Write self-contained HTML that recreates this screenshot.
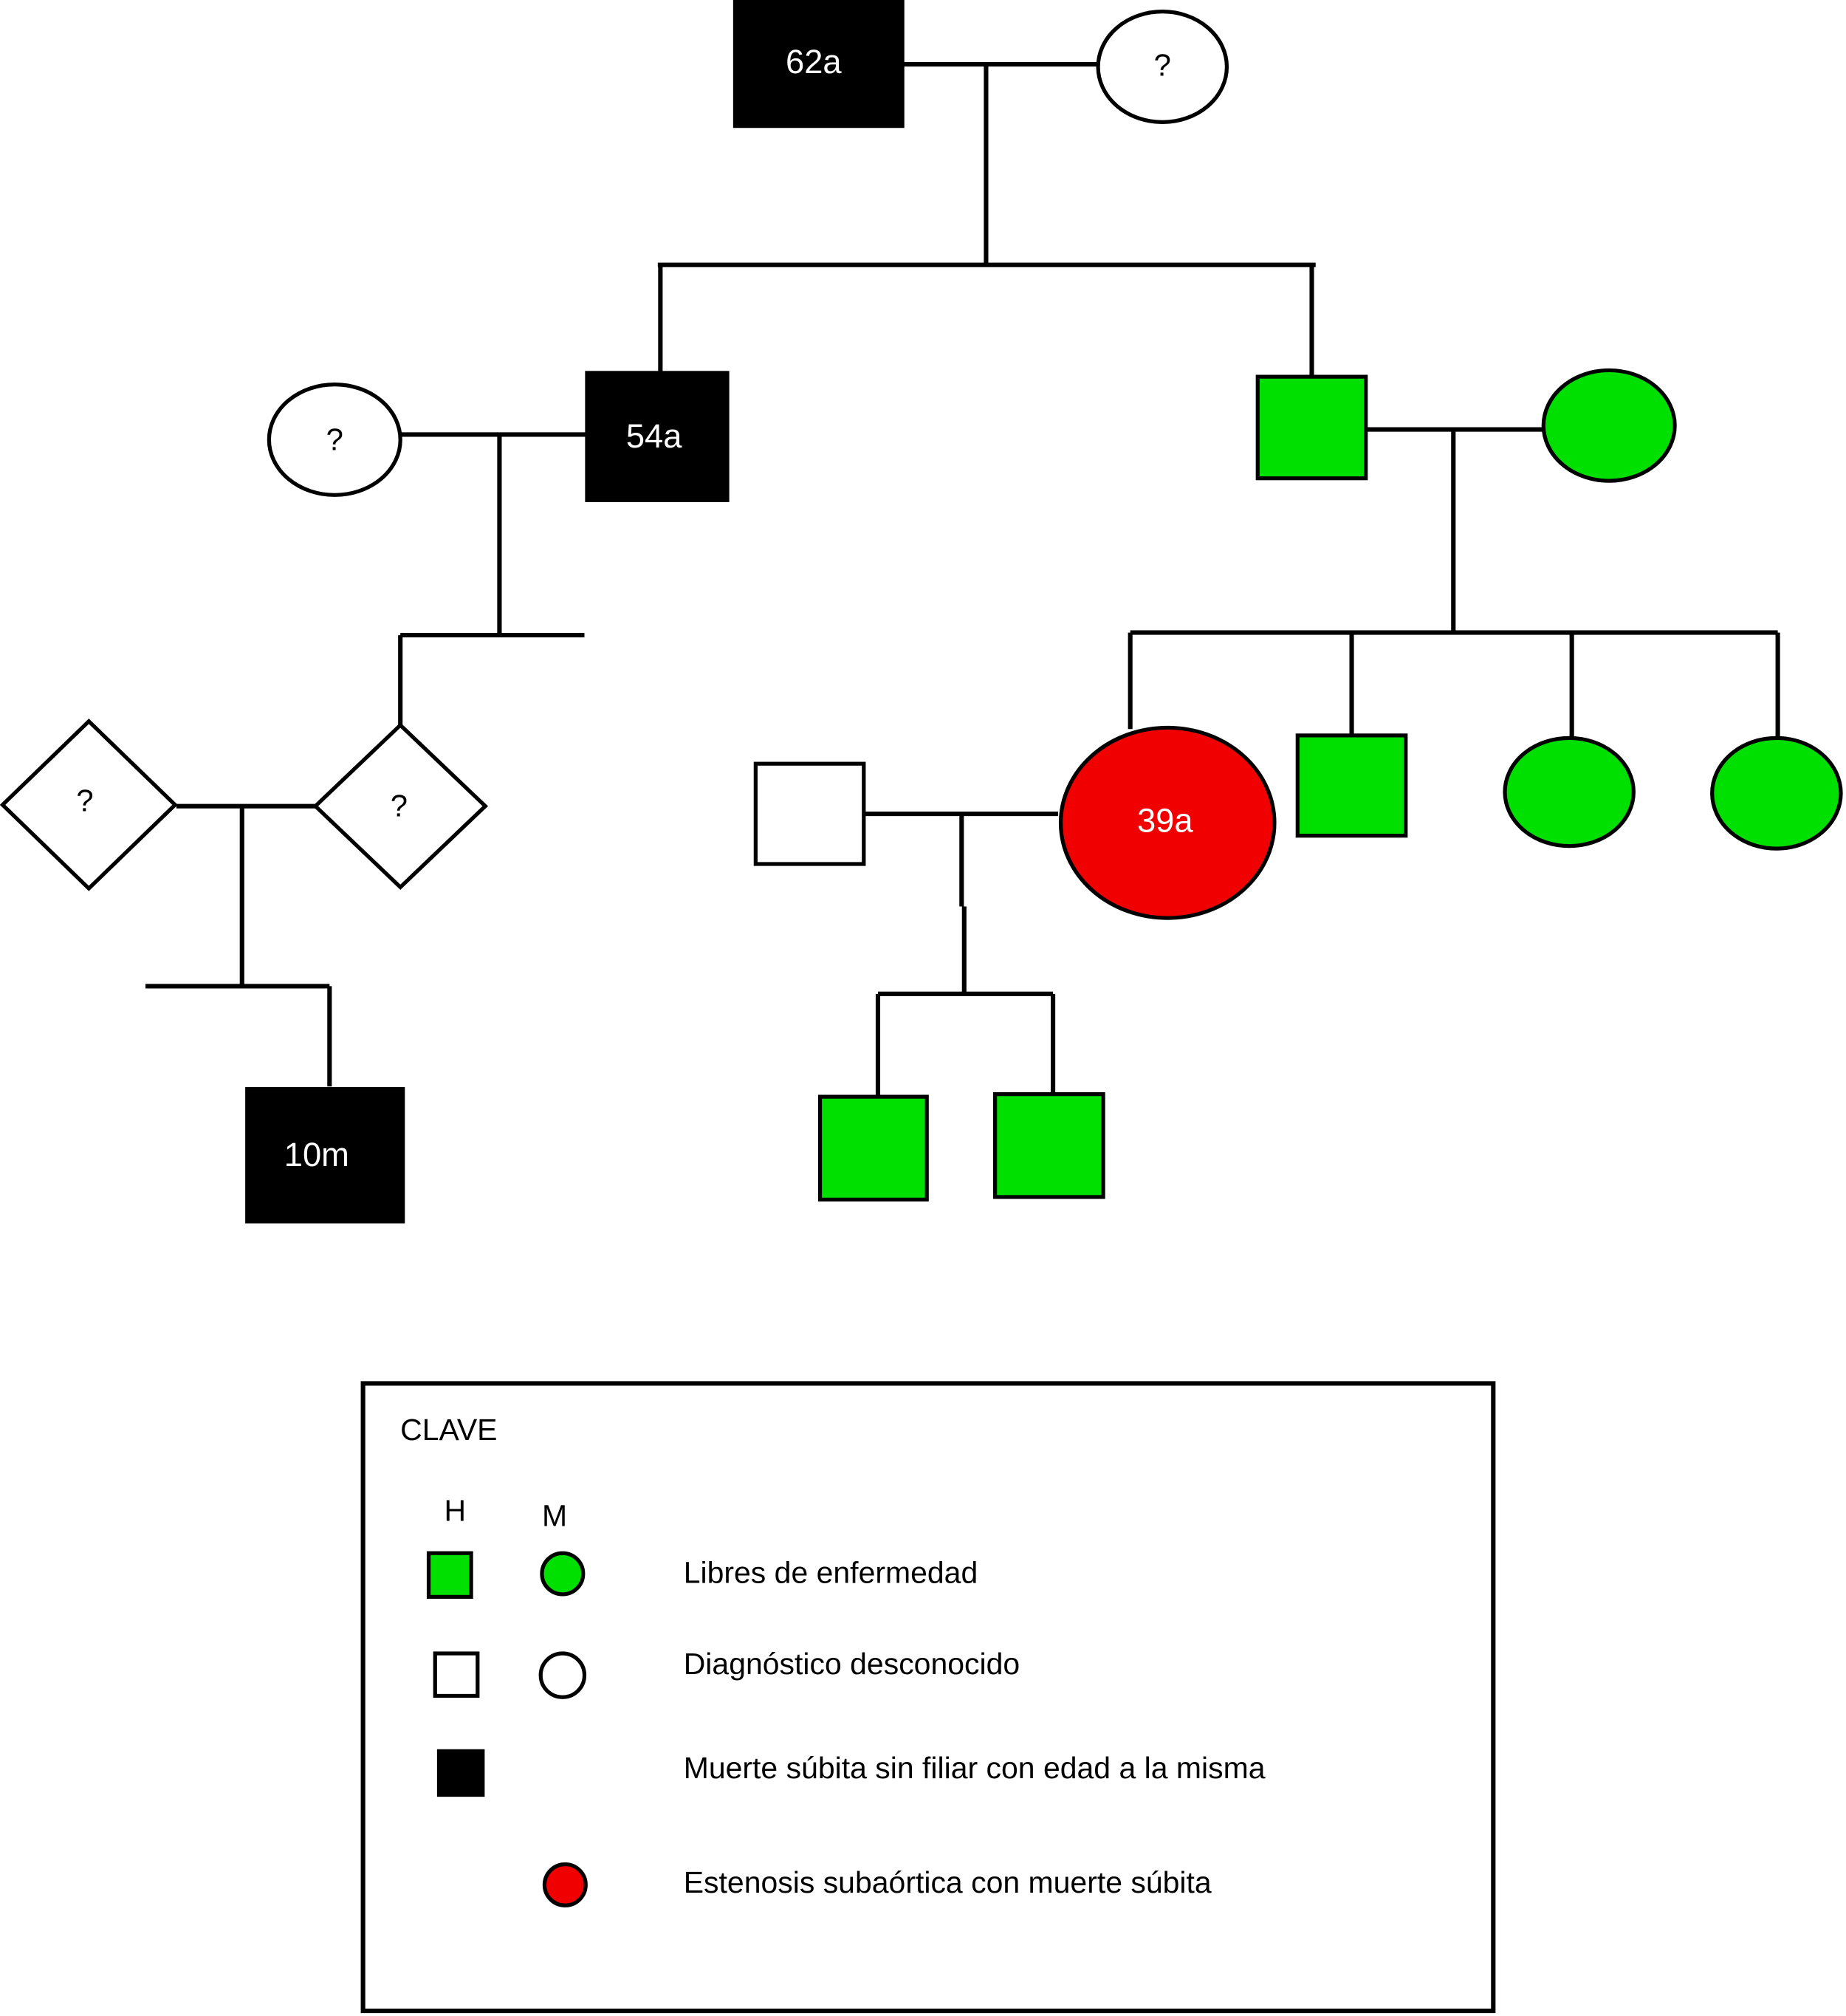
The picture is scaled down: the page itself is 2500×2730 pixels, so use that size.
<!DOCTYPE html>
<html><head><meta charset="utf-8"><style>
html,body{margin:0;padding:0;background:#fff;}
svg{display:block;}
text{font-family:"Liberation Sans",sans-serif;}
</style></head><body>
<svg width="2500" height="2730" viewBox="0 0 1434 1568" preserveAspectRatio="none" xmlns="http://www.w3.org/2000/svg">
<g stroke="#000" stroke-width="3.5" fill="none">
<path d="M701 50H852 M766 50V206 M511 206H1022 M513 206V290 M1019 206V293"/>
<path d="M311 338H456 M388 338V494 M311 494H454 M311 494V565"/>
<path d="M137 627H245 M188 627V767 M113 767H256 M256 767V845"/>
<path d="M1061 334H1199 M1129 334V492 M878 492H1381 M878 492V567 M1050 492V572 M1221 492V575 M1381 492V577"/>
<path d="M671 633H822 M747 633V705 M749 705V773 M682 773H818 M682 773V853 M818 773V852"/>
</g>
<g stroke="#000" stroke-width="3">
<rect x="571" y="0" width="130" height="98" fill="#000"/>
<ellipse cx="903" cy="52" rx="50" ry="43" fill="#fff"/>
<rect x="456" y="290" width="109" height="99" fill="#000"/>
<ellipse cx="260" cy="342" rx="51" ry="43" fill="#fff"/>
<polygon points="2,626 69,561 136,626 69,691" fill="#fff"/>
<polygon points="245,627 311,564 377,627 311,690" fill="#fff"/>
<rect x="192" y="847" width="121" height="103" fill="#000"/>
<rect x="977" y="293" width="84" height="79" fill="#00e000"/>
<ellipse cx="1250" cy="331" rx="51" ry="43" fill="#00e000"/>
<ellipse cx="907" cy="640" rx="83" ry="74" fill="#f00000"/>
<rect x="1008" y="572" width="84" height="78" fill="#00e000"/>
<ellipse cx="1219" cy="616" rx="50" ry="42" fill="#00e000"/>
<ellipse cx="1380" cy="617" rx="50" ry="43" fill="#00e000"/>
<rect x="587" y="594" width="84" height="78" fill="#fff"/>
<rect x="637" y="853" width="83" height="80" fill="#00e000"/>
<rect x="773" y="851" width="84" height="80" fill="#00e000"/>
</g>
<g font-size="26" fill="#fff" text-anchor="middle">
<text x="632" y="57">62a</text>
<text x="508" y="348">54a</text>
<text x="246" y="907">10m</text>
<text x="905" y="647">39a</text>
</g>
<g font-size="24" fill="#000" text-anchor="middle">
<text x="903" y="59">?</text>
<text x="260" y="350">?</text>
<text x="66" y="631">?</text>
<text x="310" y="635">?</text>
</g>
<rect x="282" y="1076" width="878" height="488" fill="none" stroke="#000" stroke-width="3.5"/>
<g font-size="23.5" fill="#000">
<text x="311" y="1120">CLAVE</text>
<text x="345" y="1183">H</text>
<text x="421" y="1187">M</text>
<text x="531" y="1231">Libres de enfermedad</text>
<text x="531" y="1302">Diagnóstico desconocido</text>
<text x="531" y="1383">Muerte súbita sin filiar con edad a la misma</text>
<text x="531" y="1472">Estenosis subaórtica con muerte súbita</text>
</g>
<g stroke="#000" stroke-width="3">
<rect x="333" y="1208" width="33" height="34" fill="#00e000"/>
<circle cx="437" cy="1224" r="16" fill="#00e000"/>
<rect x="338" y="1286" width="33" height="33" fill="#fff"/>
<circle cx="437" cy="1303" r="17" fill="#fff"/>
<rect x="341" y="1362" width="34" height="34" fill="#000"/>
<circle cx="439" cy="1466" r="16" fill="#f00000"/>
</g>
</svg>
</body></html>
